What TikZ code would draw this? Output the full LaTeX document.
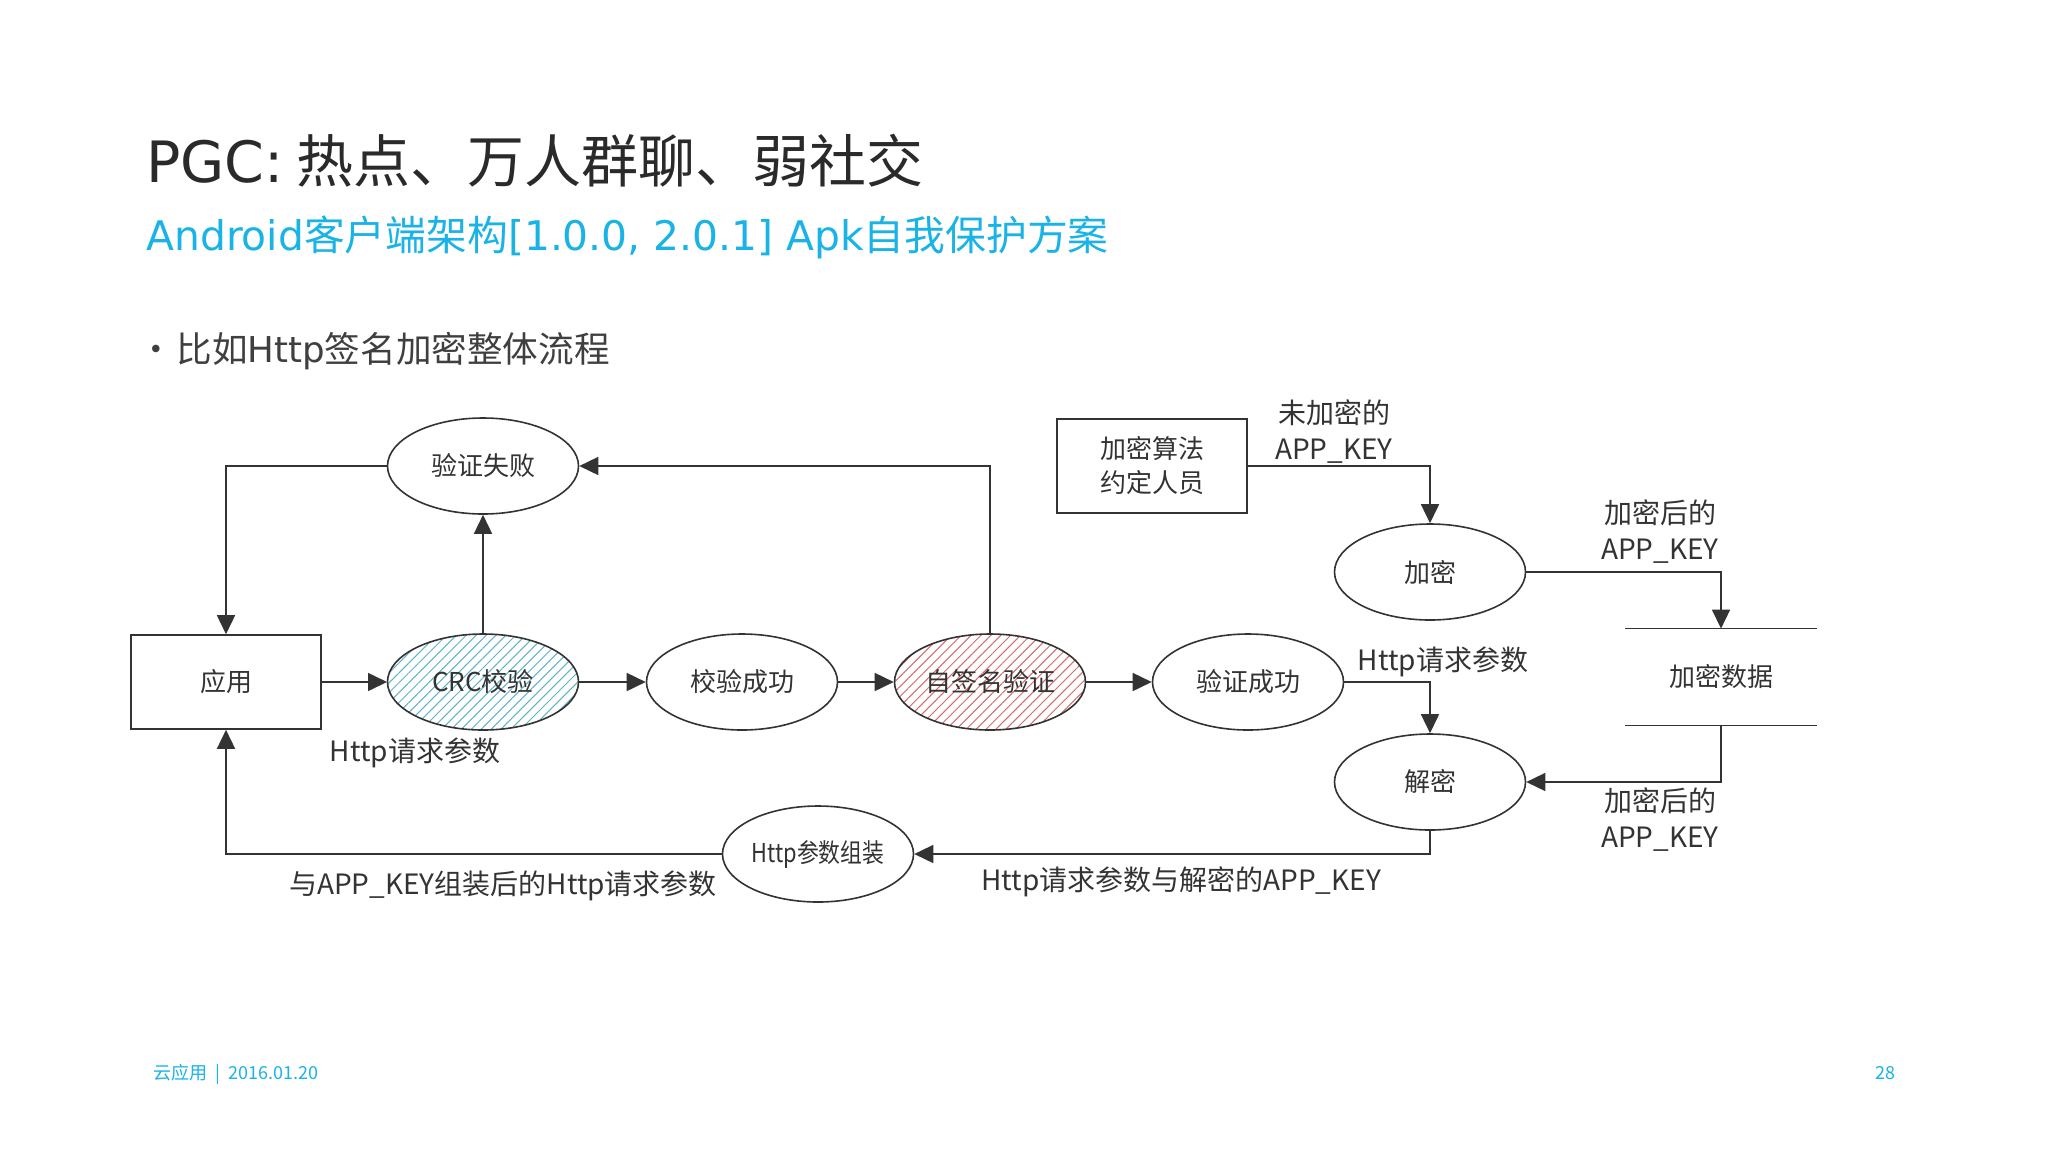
\documentclass[tikz,border=0pt]{standalone}
\usepackage{fontspec}
\setmainfont{Noto Sans CJK SC}
\newfontfamily\cjk{Noto Sans CJK SC}
\newfontfamily\cjkn[FakeStretch=0.84]{Noto Sans CJK SC}
\newfontfamily\latf{DejaVu Sans}
\usetikzlibrary{arrows.meta,patterns.meta,shapes.geometric}
\definecolor{cyanT}{HTML}{1AB3E6}
\definecolor{ink}{HTML}{2A2A2A}
\definecolor{lineC}{HTML}{333333}
\definecolor{hatchB}{HTML}{5FB3C9}
\definecolor{hatchR}{HTML}{D46A6A}
\begin{document}
\begin{tikzpicture}[x=0.5pt,y=-0.5pt,
  proc/.style={ellipse,draw=lineC,line width=0.8pt,minimum width=95.5pt,minimum height=48pt,inner sep=0pt,text=lineC,font=\cjk\fontsize{13}{15}\selectfont},
  boxn/.style={rectangle,draw=lineC,line width=0.8pt,minimum width=95pt,minimum height=47pt,inner sep=0pt,text=lineC,align=center,font=\cjk\fontsize{13}{17}\selectfont},
  store/.style={rectangle,minimum width=95.5pt,minimum height=48pt,inner sep=0pt,text=lineC,font=\cjk\fontsize{13}{15}\selectfont},
  lbl/.style={inner sep=0pt,text=lineC,align=center,font=\cjk\fontsize{14}{18}\selectfont},
  arr/.style={-{Triangle[length=9.5pt,width=9pt]},line width=0.8pt,draw=lineC},
  hatchblue/.style={pattern={Lines[angle=45,distance=3.5pt,line width=0.5pt]},pattern color=hatchB},
  hatchred/.style={pattern={Lines[angle=45,distance=3.5pt,line width=0.5pt]},pattern color=hatchR}]
\useasboundingbox (0,0) rectangle (2048,1151);
\fill[white] (0,0) rectangle (2048,1151);

% header texts
\node[anchor=base west,inner sep=0pt,text=ink,font=\fontsize{28.5}{32}\selectfont] (title) at (146,182) {{\latf PGC:} 热点、万人群聊、弱社交};
\node[anchor=base west,inner sep=0pt,text=cyanT,font=\fontsize{20.4}{23}\selectfont] (sub) at (146,250) {{\latf Android}客户端架构{\latf [1.0.0, 2.0.1] Apk}自我保护方案};
\node[anchor=base west,inner sep=0pt,text=ink!90,font=\fontsize{17.8}{20}\selectfont] (bullet) at (138,362) {•};
\node[anchor=base west,inner sep=0pt,text=ink!90,font=\fontsize{17.8}{20}\selectfont] (btext) at (176,362) {比如{\latf Http}签名加密整体流程};

% diagram nodes
\node[boxn] (app) at (226,682) {应用};
\node[proc,hatchblue] (crc) at (483,682) {CRC校验};
\node[proc] (jyok) at (742,682) {校验成功};
\node[proc,hatchred] (zqm) at (990,682) {自签名验证};
\node[proc] (yzok) at (1248,682) {验证成功};
\node[proc] (fail) at (483,466) {验证失败};
\node[boxn] (alg) at (1152,466) {加密算法\\约定人员};
\node[proc] (jiami) at (1430,572) {加密};
\node[proc] (jiemi) at (1430,782) {解密};
\node[store] (ds) at (1721,677) {加密数据};
\node[proc,font=\cjkn\fontsize{13}{15}\selectfont] (zz) at (818,854) {Http参数组装};
\draw[lineC,line width=0.8pt] (ds.north west) -- (ds.north east);
\draw[lineC,line width=0.8pt] (ds.south west) -- (ds.south east);

% connectors
\draw[arr] (app.east) -- (crc.west);
\draw[arr] (crc.east) -- (jyok.west);
\draw[arr] (jyok.east) -- (zqm.west);
\draw[arr] (zqm.east) -- (yzok.west);
\draw[arr] (crc.north) -- (fail.south);
\draw[arr] (zqm.north) |- (fail.east);
\draw[arr] (fail.west) -| (app.north);
\draw[arr] (alg.east) -| (jiami.north);
\draw[arr] (jiami.east) -| (ds.north);
\draw[arr] (yzok.east) -| (jiemi.north);
\draw[arr] (ds.south) |- (jiemi.east);
\draw[arr] (jiemi.south) |- (zz.east);
\draw[arr] (zz.west) -| (app.south);

% labels
\node[lbl] (l1) at (415,753) {Http请求参数};
\node[lbl] (l2) at (503,886) {与APP\_KEY组装后的Http请求参数};
\node[lbl] (l3) at (1181,882) {Http请求参数与解密的APP\_KEY};
\node[lbl] (l4) at (1334,432) {未加密的\\APP\_KEY};
\node[lbl] (l5) at (1443,662) {Http请求参数};
\node[lbl] (l6) at (1660,532) {加密后的\\APP\_KEY};
\node[lbl] (l7) at (1660,820) {加密后的\\APP\_KEY};

% footer
\node[anchor=base west,inner sep=0pt,text=cyanT,font=\fontsize{9}{11}\selectfont] (foot) at (153,1079) {云应用 ~|~ 2016.01.20};
\node[anchor=base east,inner sep=0pt,text=cyanT,font=\fontsize{9}{11}\selectfont] (page) at (1896,1079) {28};
\end{tikzpicture}
\end{document}
